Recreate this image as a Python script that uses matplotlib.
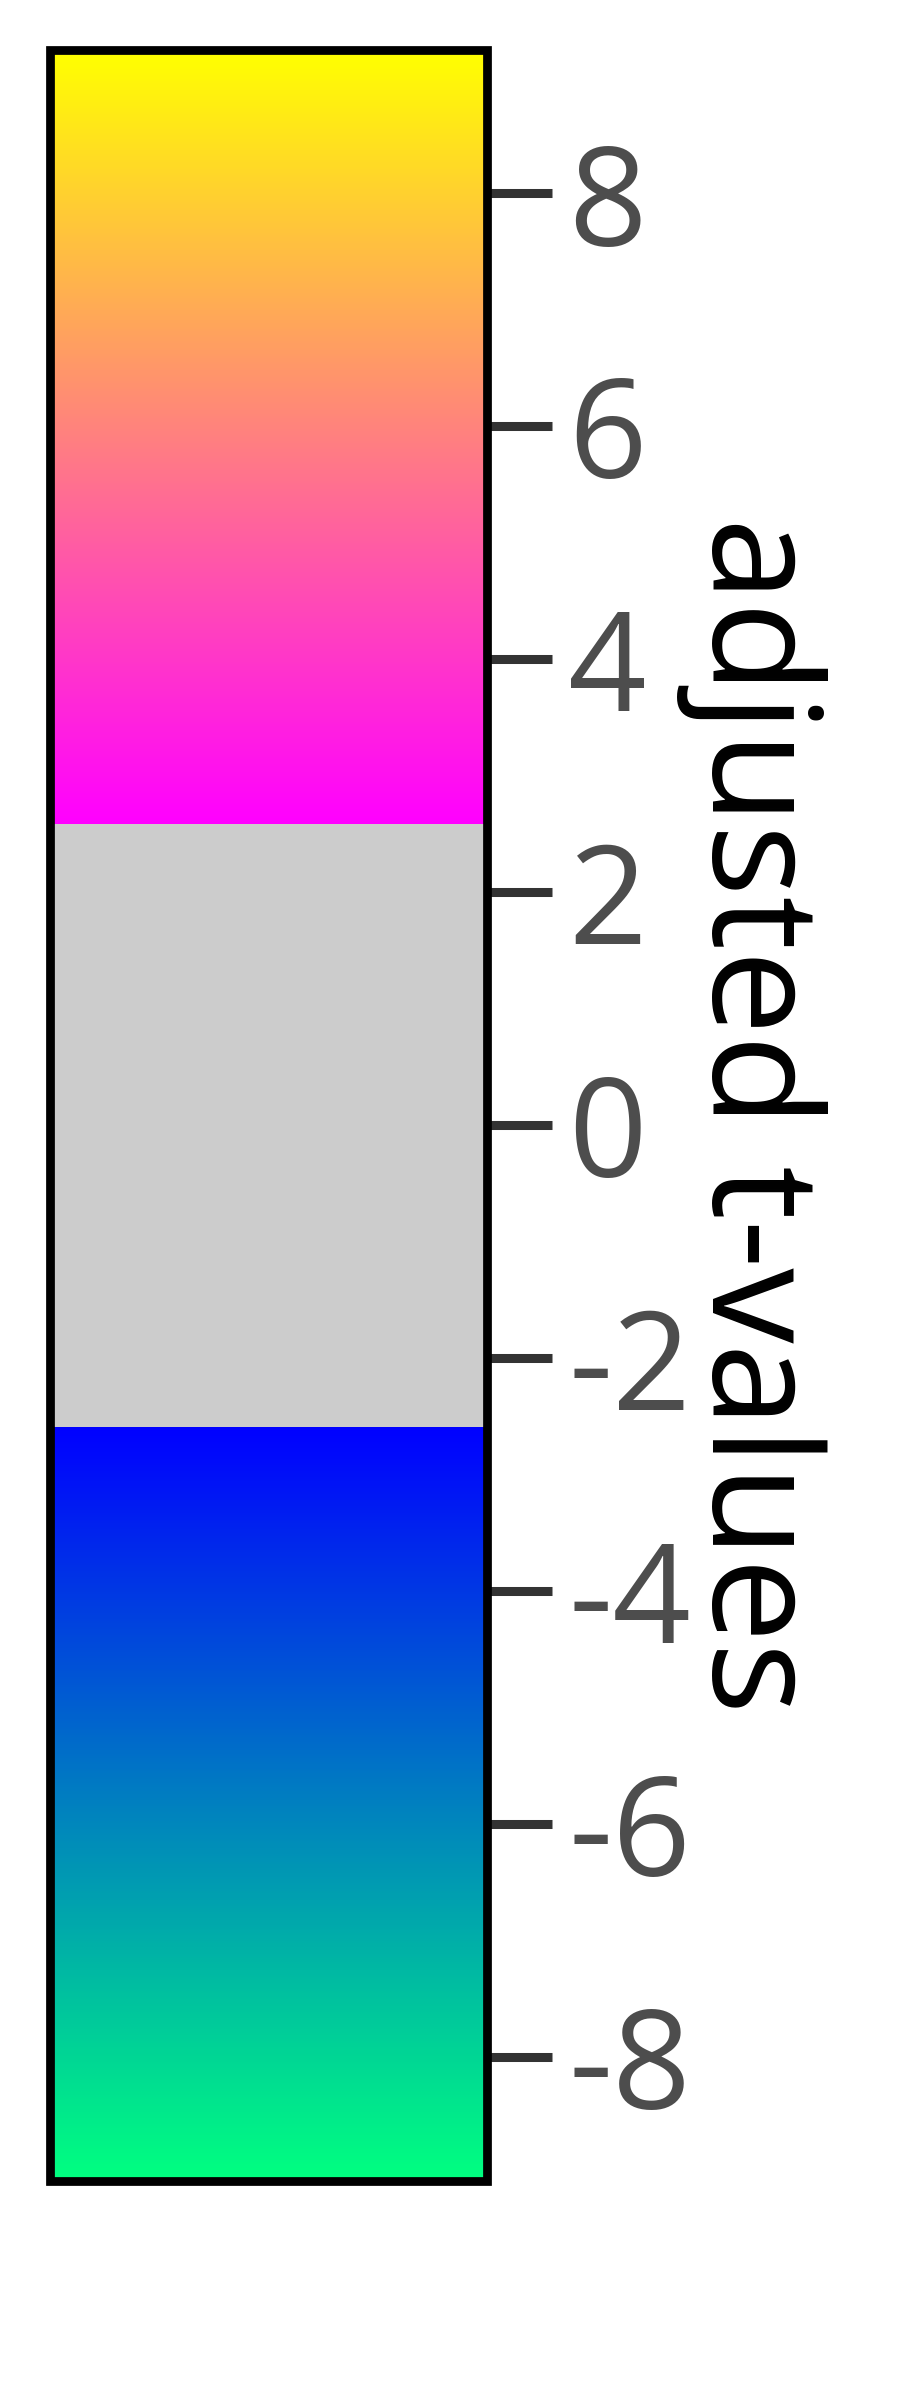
import numpy as np
import matplotlib
matplotlib.use("Agg")
import matplotlib.pyplot as plt
from matplotlib.colors import ListedColormap, Normalize
from matplotlib.cm import ScalarMappable

plt.rcParams['font.family'] = ['Open Sans', 'DejaVu Sans']
plt.rcParams['axes.unicode_minus'] = False

# data
vmin = -9.06
vmax = 9.23
threshold = 2.59
tick_values = [-8, -6, -4, -2, 0, 2, 4, 6, 8]
tick_labels = ["-8", "-6", "-4", "-2", "0", "2", "4", "6", "8"]
label_text = "adjusted t-values"
mid_color = "#cccccc"

# build colormap: winter (reversed direction) below -thr, gray in middle, spring above +thr
N = 1024
vals = np.linspace(vmin, vmax, N)
spring = plt.get_cmap("spring")
winter = plt.get_cmap("winter")
cols = []
for v in vals:
    if v >= threshold:
        cols.append(spring((v - threshold) / (vmax - threshold)))
    elif v <= -threshold:
        cols.append(winter((-threshold - v) / (-threshold - vmin)))
    else:
        cols.append(matplotlib.colors.to_rgba(mid_color))
cmap = ListedColormap(cols)

fig = plt.figure(figsize=(9, 24), dpi=100)
W, H = 900, 2400
left_px, right_px, top_px, bottom_px = 50, 487, 50, 2180.5
cax = fig.add_axes([left_px / W, 1 - bottom_px / H,
                    (right_px - left_px) / W, (bottom_px - top_px) / H])

sm = ScalarMappable(norm=Normalize(vmin=vmin, vmax=vmax), cmap=cmap)
cb = fig.colorbar(sm, cax=cax)
cb.outline.set_linewidth(6.3)
cb.outline.set_edgecolor("black")
cb.set_ticks(tick_values)
cb.set_ticklabels(tick_labels)
cb.ax.tick_params(length=46.5, width=6.5, color="#333333", labelcolor="#4d4d4d",
                  labelsize=99, pad=12)
cb.set_label(label_text, rotation=270, rotation_mode="anchor", va="baseline",
             fontsize=108.5, color="black")
cb.ax.yaxis.set_label_coords((711.7 - left_px) / (right_px - left_px), 0.5)

fig.savefig("out.png", dpi=100)
